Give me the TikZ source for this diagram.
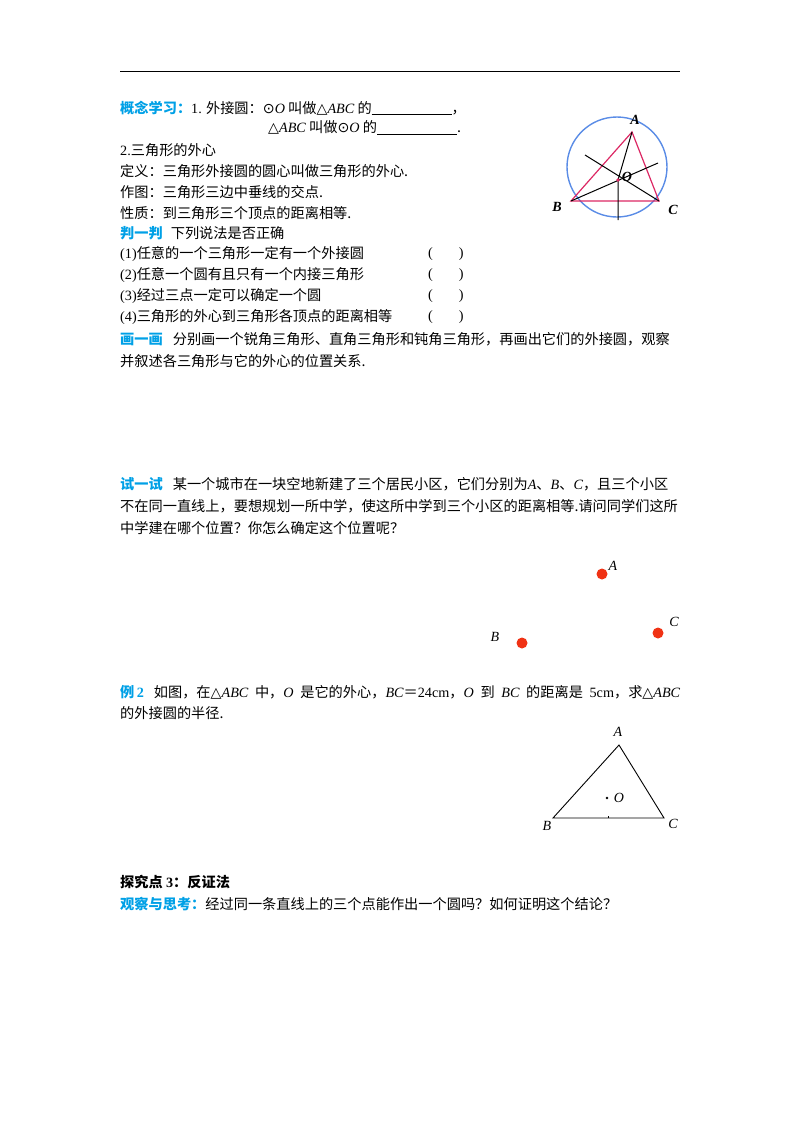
\documentclass[tikz,border=0pt]{standalone}
\usepackage{fontspec}
\setmainfont{Liberation Serif}
\newfontfamily\cjk{Noto Sans CJK SC}
\newfontfamily\latin{Liberation Serif}
\newfontfamily\sym{DejaVu Sans}
\XeTeXlinebreaklocale "zh"
\XeTeXlinebreakskip=0pt plus 3pt
\definecolor{tblue}{RGB}{0,160,230}
\definecolor{tred}{RGB}{220,40,100}
\definecolor{cblue}{RGB}{90,140,230}
\definecolor{dotred}{RGB}{240,50,20}
\newcommand{\hd}[1]{{\color{tblue}\bfseries #1}}
\newcommand{\ci}{{\sym ⊙}}
\newcommand{\tri}{{\sym △}}
\newcommand{\li}[1]{{\latin\itshape #1}}
\newcommand{\lr}[1]{{\latin #1}}
\newcommand{\blank}{\underline{\hspace{80pt}}}
\begin{document}
\begin{tikzpicture}[x=1pt,y=-1pt,
  txt/.style={anchor=west,inner sep=0pt,font=\cjk\fontsize{14.2}{17}\selectfont},
  lab/.style={inner sep=0pt,font=\fontsize{14}{15}\selectfont\itshape},
  blab/.style={inner sep=0pt,font=\fontsize{14}{15}\selectfont\itshape\bfseries},
  rdot/.style={circle,fill=dotred,inner sep=0pt,minimum size=11pt}]
\useasboundingbox (0,0) rectangle (800,1132);
\draw[line width=1pt] (120,72) -- (680,72);
\node[txt] (l1) at (120,108) {\hd{概念学习：}\lr{1.} 外接圆：\ci\li{O} 叫做\tri\li{ABC} 的\blank，};
\node[txt] (l2) at (268,128) {\tri\li{ABC} 叫做\ci\li{O} 的\blank.};
\node[txt] (l3) at (120,150) {\lr{2.}三角形的外心};
\node[txt] (l4) at (120,171) {定义：三角形外接圆的圆心叫做三角形的外心.};
\node[txt] (l5) at (120,192) {作图：三角形三边中垂线的交点.};
\node[txt] (l6) at (120,213) {性质：到三角形三个顶点的距离相等.};
\node[txt] (l7) at (120,233) {\hd{判一判}\hspace{8pt}下列说法是否正确};
\foreach \t/\y in {{\lr{(1)}任意的一个三角形一定有一个外接圆}/254,{\lr{(2)}任意一个圆有且只有一个内接三角形}/275,{\lr{(3)}经过三点一定可以确定一个圆}/296,{\lr{(4)}三角形的外心到三角形各顶点的距离相等}/317}{
  \node[txt] at (120,\y) {\t};
  \node[txt] at (428,\y) {\lr{(}\hspace{26pt}\lr{)}};
}
\node[txt] (l8) at (120,339) {\makebox[560pt][s]{\hd{画一画}\hspace{10pt}分别画一个锐角三角形、直角三角形和钝角三角形，再画出它们的外接圆，观察}};
\node[txt] (l9) at (120,361) {并叙述各三角形与它的外心的位置关系.};
\node[txt] (l10) at (120,484) {\makebox[560pt][s]{\hd{试一试}\hspace{10pt}某一个城市在一块空地新建了三个居民小区，它们分别为\li{A}、\li{B}、\li{C}，且三个小区}};
\node[txt] (l11) at (120,506) {\makebox[560pt][s]{不在同一直线上，要想规划一所中学，使这所中学到三个小区的距离相等.请问同学们这所}};
\node[txt] (l12) at (120,528) {中学建在哪个位置？你怎么确定这个位置呢？};
\node[rdot] (pA) at (602,574) {};
\node[rdot] (pC) at (658,633) {};
\node[rdot] (pB) at (522,643) {};
\node[lab] at (613,566) {A};
\node[lab] at (674,622) {C};
\node[lab] at (495,637) {B};
\node[txt] (l13) at (120,692) {\makebox[560pt][s]{\hd{例\,\lr{\bfseries 2}}\hspace{10pt}如图，在\tri\li{ABC} 中，\li{O} 是它的外心，\li{BC}＝\lr{24cm}，\li{O} 到 \li{BC} 的距离是 \lr{5cm}，求\tri\li{ABC}}};
\node[txt] (l14) at (120,713) {的外接圆的半径.};
\coordinate (TA) at (619,745);
\coordinate (TB) at (553,818);
\coordinate (TC) at (664,818);
\draw[line width=0.9pt] (TA) -- (TB) -- (TC) -- cycle;
\fill (607,798) circle (1.3pt);
\draw (608,816) -- (608,818);
\node[lab] at (619,798) {O};
\node[lab] at (618,732) {A};
\node[lab] at (547,826) {B};
\node[lab] at (673,824) {C};
\node[txt] (l15) at (120,882) {\bfseries 探究点 \lr{\bfseries 3}：反证法};
\node[txt] (l16) at (120,904) {\hd{观察与思考：}经过同一条直线上的三个点能作出一个圆吗？如何证明这个结论？};
% circle figure
\coordinate (cA) at (632,132);
\coordinate (cB) at (571,201);
\coordinate (cC) at (659,201);
\coordinate (cO) at (618,180);
\draw[cblue,line width=1.4pt] (617,167) circle (50);
\draw[tred,line width=1.2pt] (cA) -- (cB) -- (cC) -- cycle;
\draw[line width=1pt] (cA) -- (cO) -- (618,220);
\draw[line width=1pt] (cB) -- (658,163);
\draw[line width=1pt] (cC) -- (585,155);
\fill[tred] (cO) circle (1.8pt);
\node[blab] at (627,177) {O};
\node[blab] at (635,120) {A};
\node[blab] at (557,207) {B};
\node[blab] at (673,210) {C};
\end{tikzpicture}
\end{document}
